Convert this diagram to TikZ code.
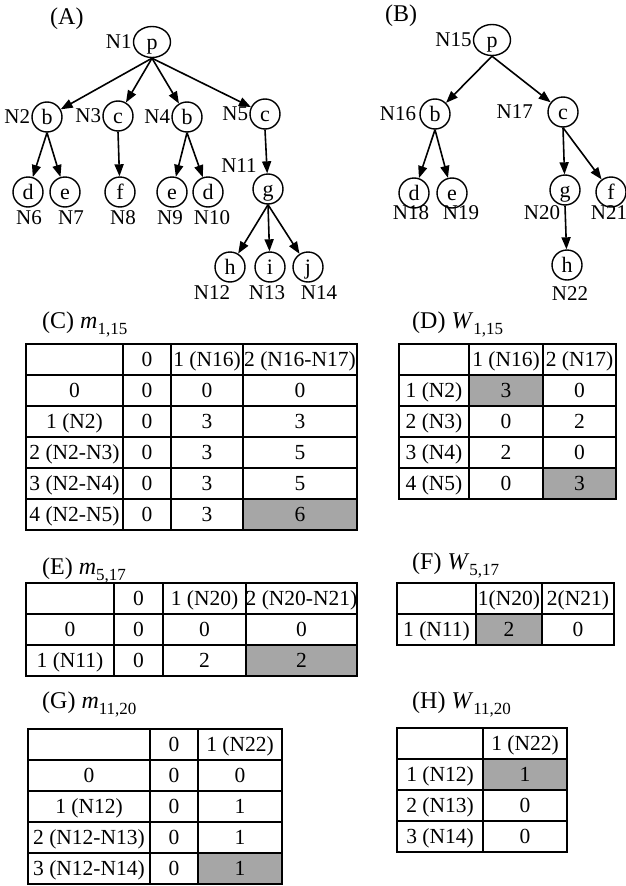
\documentclass[tikz,border=0pt]{standalone}
\usepackage{fontspec}
\setmainfont{Liberation Serif}
\usetikzlibrary{arrows.meta,shapes.geometric}
\definecolor{cellgray}{RGB}{166,166,166}
\newcommand\mytitle[3]{(#1)\ \textit{#2}\raisebox{-0.28em}{\fontsize{17}{17}\selectfont #3}}
\newcommand\tcell[6]{\draw[cellline,fill=white] (#2,#3) rectangle (#4,#5);
  \node[ctext] (#1) at ({(#2+#4)/2},{(#3+#5)/2}) {#6};}
\newcommand\gcell[6]{\draw[cellline,fill=cellgray] (#2,#3) rectangle (#4,#5);
  \node[ctext] (#1) at ({(#2+#4)/2},{(#3+#5)/2}) {#6};}
\begin{document}
\begin{tikzpicture}[x=1pt,y=-1pt,
  treenode/.style={draw,circle,line width=1.4pt,minimum size=30pt,inner sep=0pt,text height=16pt,text depth=2pt,font=\fontsize{22}{22}\selectfont},
  rootnode/.style={draw,ellipse,line width=1.4pt,minimum width=37pt,minimum height=31pt,inner sep=0pt,text height=16pt,text depth=2pt,font=\fontsize{22}{22}\selectfont},
  nlab/.style={inner sep=0pt,font=\fontsize{21}{21}\selectfont},
  arr/.style={line width=1.6pt,-{Triangle[length=12pt,width=9pt]}},
  ttl/.style={inner sep=0pt,anchor=base west,font=\fontsize{24}{24}\selectfont},
  ctext/.style={inner sep=0pt,text height=16pt,text depth=2pt,font=\fontsize{21.5}{21.5}\selectfont},
  cellline/.style={line width=1.3pt},
  outline/.style={line width=1.8pt}
]
\useasboundingbox (0,0) rectangle (626,886);

% ---------- Tree A ----------
\node[ttl] (ta) at (50,24) {(A)};
\node[rootnode] (n1) at (152,42) {p};
\node[treenode] (n2) at (47,117) {b};
\node[treenode] (n3) at (118,116) {c};
\node[treenode] (n4) at (187,117) {b};
\node[treenode] (n5) at (265,114) {c};
\node[treenode] (n6) at (28,192) {d};
\node[treenode] (n7) at (65,192) {e};
\node[treenode] (n8) at (120,192) {f};
\node[treenode] (n9) at (172,192) {e};
\node[treenode] (n10) at (208,192) {d};
\node[treenode] (n11) at (268,189) {g};
\node[treenode] (n12) at (230,267) {h};
\node[treenode] (n13) at (270,267) {i};
\node[treenode] (n14) at (308,267) {j};

\node[nlab,anchor=east] (l1) at ([xshift=-1pt]n1.west) {N1};
\node[nlab,anchor=east] (l2) at ([xshift=-1pt]n2.west) {N2};
\node[nlab,anchor=east] (l3) at ([xshift=-1pt]n3.west) {N3};
\node[nlab,anchor=east] (l4) at ([xshift=-1pt]n4.west) {N4};
\node[nlab,anchor=east] (l5) at ([xshift=-1pt]n5.west) {N5};
\node[nlab] (l6) at (29,218) {N6};
\node[nlab] (l7) at (71,218) {N7};
\node[nlab] (l8) at (123,218) {N8};
\node[nlab] (l9) at (170,218) {N9};
\node[nlab] (l10) at (212,218) {N10};
\node[nlab] (l11) at (239,166) {N11};
\node[nlab] (l12) at (212,293) {N12};
\node[nlab] (l13) at (267,293) {N13};
\node[nlab] (l14) at (319,293) {N14};

\draw[arr] (n1.south) -- (n2);
\draw[arr] (n1.south) -- (n3);
\draw[arr] (n1.south) -- (n4);
\draw[arr] (n1.south) -- (n5);
\draw[arr] (n2.south) -- (n6);
\draw[arr] (n2.south) -- (n7);
\draw[arr] (n3.south) -- (n8);
\draw[arr] (n4.south) -- (n9);
\draw[arr] (n4.south) -- (n10);
\draw[arr] (n5.south) -- (n11);
\draw[arr] (n11.south) -- (n12);
\draw[arr] (n11.south) -- (n13);
\draw[arr] (n11.south) -- (n14);

% ---------- Tree B ----------
\node[ttl] (tb) at (385,21) {(B)};
\node[rootnode] (n15) at (492,40) {p};
\node[treenode] (n16) at (435,114) {b};
\node[treenode] (n17) at (563,112) {c};
\node[treenode] (n18) at (414,193) {d};
\node[treenode] (n19) at (452,193) {e};
\node[treenode] (n20) at (565,190) {g};
\node[treenode] (n21) at (611,192) {f};
\node[treenode] (n22) at (567,265) {h};

\node[nlab,anchor=east] (l15) at ([xshift=-1pt]n15.west) {N15};
\node[nlab,anchor=east] (l16) at ([xshift=-3pt]n16.west) {N16};
\node[nlab,anchor=east] (l17) at (533,112) {N17};
\node[nlab] (l18) at (411,213) {N18};
\node[nlab] (l19) at (461,213) {N19};
\node[nlab] (l20) at (542,213) {N20};
\node[nlab] (l21) at (609,213) {N21};
\node[nlab] (l22) at (570,294) {N22};

\draw[arr] (n15.south) -- (n16);
\draw[arr] (n15.south) -- (n17);
\draw[arr] (n16.south) -- (n18);
\draw[arr] (n16.south) -- (n19);
\draw[arr] (n17.south) -- (n20);
\draw[arr] (n17.south) -- (n21);
\draw[arr] (n20.south) -- (n22);

% ---------- Table C ----------
\node[ttl] (tc) at (42,328) {\mytitle{C}{m}{1,15}};
\tcell{c00}{26}{344}{123}{375}{}
\tcell{c01}{123}{344}{171}{375}{0}
\tcell{c02}{171}{344}{243}{375}{1 (N16)}
\tcell{c03}{243}{344}{357}{375}{2 (N16-N17)}
\tcell{c10}{26}{375}{123}{406}{0}
\tcell{c11}{123}{375}{171}{406}{0}
\tcell{c12}{171}{375}{243}{406}{0}
\tcell{c13}{243}{375}{357}{406}{0}
\tcell{c20}{26}{406}{123}{437}{1 (N2)}
\tcell{c21}{123}{406}{171}{437}{0}
\tcell{c22}{171}{406}{243}{437}{3}
\tcell{c23}{243}{406}{357}{437}{3}
\tcell{c30}{26}{437}{123}{468}{2 (N2-N3)}
\tcell{c31}{123}{437}{171}{468}{0}
\tcell{c32}{171}{437}{243}{468}{3}
\tcell{c33}{243}{437}{357}{468}{5}
\tcell{c40}{26}{468}{123}{499}{3 (N2-N4)}
\tcell{c41}{123}{468}{171}{499}{0}
\tcell{c42}{171}{468}{243}{499}{3}
\tcell{c43}{243}{468}{357}{499}{5}
\tcell{c50}{26}{499}{123}{530}{4 (N2-N5)}
\tcell{c51}{123}{499}{171}{530}{0}
\tcell{c52}{171}{499}{243}{530}{3}
\gcell{c53}{243}{499}{357}{530}{6}
\draw[outline] (26,344) rectangle (357,530);

% ---------- Table D ----------
\node[ttl] (td) at (412,328) {\mytitle{D}{W}{1,15}};
\tcell{d00}{399}{344}{469}{375}{}
\tcell{d01}{469}{344}{543}{375}{1 (N16)}
\tcell{d02}{543}{344}{616}{375}{2 (N17)}
\tcell{d10}{399}{375}{469}{406}{1 (N2)}
\gcell{d11}{469}{375}{543}{406}{3}
\tcell{d12}{543}{375}{616}{406}{0}
\tcell{d20}{399}{406}{469}{437}{2 (N3)}
\tcell{d21}{469}{406}{543}{437}{0}
\tcell{d22}{543}{406}{616}{437}{2}
\tcell{d30}{399}{437}{469}{468}{3 (N4)}
\tcell{d31}{469}{437}{543}{468}{2}
\tcell{d32}{543}{437}{616}{468}{0}
\tcell{d40}{399}{468}{469}{499}{4 (N5)}
\tcell{d41}{469}{468}{543}{499}{0}
\gcell{d42}{543}{468}{616}{499}{3}
\draw[outline] (399,344) rectangle (616,499);

% ---------- Table E ----------
\node[ttl] (te) at (42,574) {\mytitle{E}{m}{5,17}};
\tcell{e00}{26}{583}{114}{614}{}
\tcell{e01}{114}{583}{163}{614}{0}
\tcell{e02}{163}{583}{246}{614}{1 (N20)}
\tcell{e03}{246}{583}{357}{614}{2 (N20-N21)}
\tcell{e10}{26}{614}{114}{645}{0}
\tcell{e11}{114}{614}{163}{645}{0}
\tcell{e12}{163}{614}{246}{645}{0}
\tcell{e13}{246}{614}{357}{645}{0}
\tcell{e20}{26}{645}{114}{676}{1 (N11)}
\tcell{e21}{114}{645}{163}{676}{0}
\tcell{e22}{163}{645}{246}{676}{2}
\gcell{e23}{246}{645}{357}{676}{2}
\draw[outline] (26,583) rectangle (357,676);

% ---------- Table F ----------
\node[ttl] (tf) at (412,569) {\mytitle{F}{W}{5,17}};
\tcell{f00}{397}{583}{476}{614}{}
\tcell{f01}{476}{583}{542}{614}{1(N20)}
\tcell{f02}{542}{583}{614}{614}{2(N21)}
\tcell{f10}{397}{614}{476}{645}{1 (N11)}
\gcell{f11}{476}{614}{542}{645}{2}
\tcell{f12}{542}{614}{614}{645}{0}
\draw[outline] (397,583) rectangle (614,645);

% ---------- Table G ----------
\node[ttl] (tg) at (42,708) {\mytitle{G}{m}{11,20}};
\tcell{g00}{28}{729}{150}{760}{}
\tcell{g01}{150}{729}{198}{760}{0}
\tcell{g02}{198}{729}{282}{760}{1 (N22)}
\tcell{g10}{28}{760}{150}{791}{0}
\tcell{g11}{150}{760}{198}{791}{0}
\tcell{g12}{198}{760}{282}{791}{0}
\tcell{g20}{28}{791}{150}{822}{1 (N12)}
\tcell{g21}{150}{791}{198}{822}{0}
\tcell{g22}{198}{791}{282}{822}{1}
\tcell{g30}{28}{822}{150}{853}{2 (N12-N13)}
\tcell{g31}{150}{822}{198}{853}{0}
\tcell{g32}{198}{822}{282}{853}{1}
\tcell{g40}{28}{853}{150}{884}{3 (N12-N14)}
\tcell{g41}{150}{853}{198}{884}{0}
\gcell{g42}{198}{853}{282}{884}{1}
\draw[outline] (28,729) rectangle (282,884);

% ---------- Table H ----------
\node[ttl] (th) at (412,708) {\mytitle{H}{W}{11,20}};
\tcell{h00}{397}{728}{483}{759}{}
\tcell{h01}{483}{728}{567}{759}{1 (N22)}
\tcell{h10}{397}{759}{483}{790}{1 (N12)}
\gcell{h11}{483}{759}{567}{790}{1}
\tcell{h20}{397}{790}{483}{821}{2 (N13)}
\tcell{h21}{483}{790}{567}{821}{0}
\tcell{h30}{397}{821}{483}{852}{3 (N14)}
\tcell{h31}{483}{821}{567}{852}{0}
\draw[outline] (397,728) rectangle (567,852);
\end{tikzpicture}
\end{document}
